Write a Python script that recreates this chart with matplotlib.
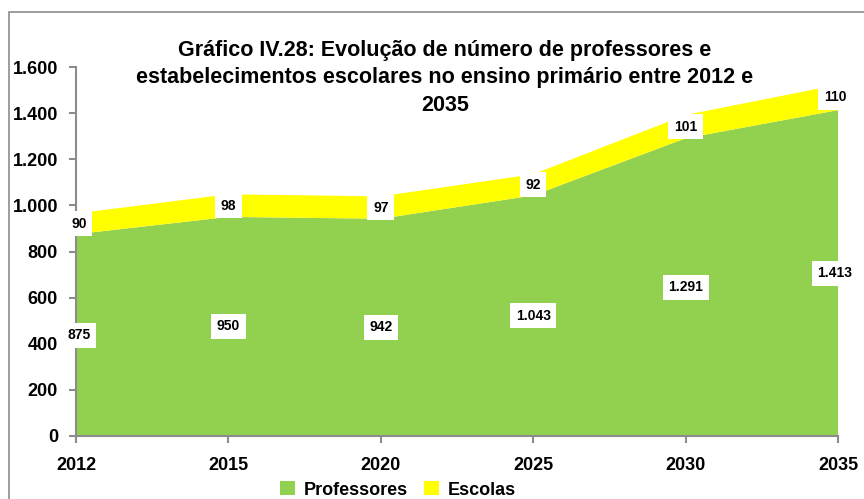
import matplotlib.pyplot as plt
from matplotlib.patches import Rectangle
from matplotlib.ticker import FuncFormatter
from matplotlib import font_manager

anos = ["2012", "2015", "2020", "2025", "2030", "2035"]
professores = [875, 950, 942, 1043, 1291, 1413]
escolas = [90, 98, 97, 92, 101, 110]

names = {f.name for f in font_manager.fontManager.ttflist}
fam = "Liberation Sans Narrow" if "Liberation Sans Narrow" in names else "Liberation Sans"
plt.rcParams["font.family"] = [fam, "DejaVu Sans"]
plt.rcParams["font.weight"] = "bold"

verde = "#92D050"
amarelo = "#FFFF00"
cinza = "#8C8C8C"


def fmt_pt(v):
    return f"{int(v):,}".replace(",", ".")


fig = plt.figure(figsize=(8.64, 4.99), dpi=100)
ax = fig.add_axes([76 / 864, (499 - 436) / 499, (838 - 76) / 864, (436 - 67) / 499])

x = list(range(len(anos)))
ax.stackplot(x, professores, escolas, colors=[verde, amarelo], labels=["Professores", "Escolas"])

ax.set_xlim(0, len(anos) - 1)
ax.set_ylim(0, 1600)
ax.set_xticks(x)
ax.set_xticklabels(anos)
ax.set_yticks(range(0, 1601, 200))
ax.yaxis.set_major_formatter(FuncFormatter(lambda v, _: fmt_pt(v)))
ax.tick_params(axis="both", labelsize=13, color=cinza, length=5, width=1.5)
ax.tick_params(axis="x", pad=10)
ax.tick_params(axis="y", pad=8)
for s in ["top", "right"]:
    ax.spines[s].set_visible(False)
for s in ["left", "bottom"]:
    ax.spines[s].set_color(cinza)
    ax.spines[s].set_linewidth(1.5)

box = dict(boxstyle="square,pad=0.4", facecolor="white", edgecolor="none")
for i in x:
    p, e = professores[i], escolas[i]
    xi = i
    if i == 0:
        xi = i + 0.02
    if i == len(anos) - 1:
        xi = i - 0.02
    ax.text(xi, p / 2, fmt_pt(p), ha="center", va="center", fontsize=10, bbox=box, zorder=5)
    ax.text(xi, p + e / 2, fmt_pt(e), ha="center", va="center", fontsize=10, bbox=box, zorder=5)

fig.text(445 / 864, 1 - 78 / 499,
         "Gráfico IV.28: Evolução de número de professores e\n"
         "estabelecimentos escolares no ensino primário entre 2012 e\n2035",
         ha="center", va="center", fontsize=15.5, linespacing=1.38)

leg = ax.legend(loc="center", bbox_to_anchor=(398 / 864, 1 - 490 / 499),
                bbox_transform=fig.transFigure, ncol=2, frameon=False,
                fontsize=13, handlelength=0.8, handleheight=0.8, columnspacing=0.9,
                handletextpad=0.5)

fig.patches.append(Rectangle((9 / 864, -0.1), 1.0, 1 - 12 / 499 + 0.1, transform=fig.transFigure,
                             fill=False, edgecolor=cinza, linewidth=1.2))

fig.savefig("out.png", dpi=100)
